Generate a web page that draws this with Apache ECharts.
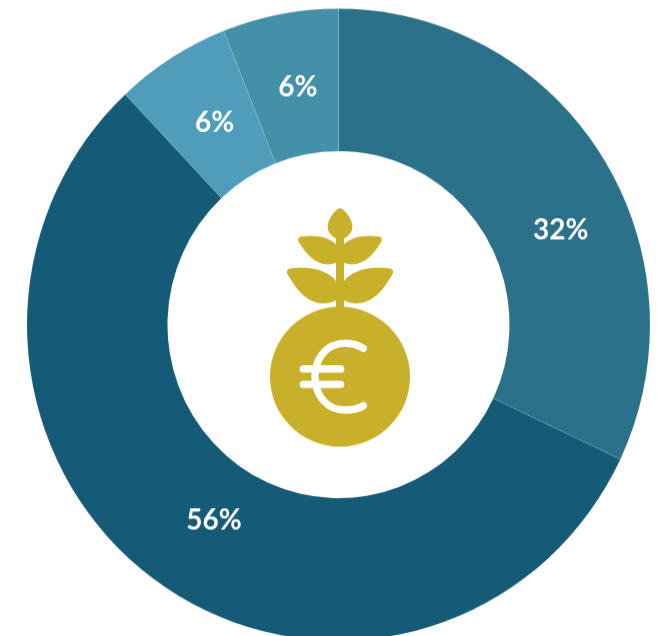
<!DOCTYPE html>
<html>
<head>
<meta charset="utf-8">
<style>
html, body { margin: 0; padding: 0; background: #fff; overflow: hidden; }
/* the source picture is stretched a little vertically */
#chart { width: 657px; height: 636px; transform: scaleY(1.0145); transform-origin: 0 0; }
</style>
<script src="https://cdn.jsdelivr.net/npm/echarts@6/dist/echarts.min.js"></script>
</head>
<body>
<div id="chart"></div>
<script>
// values clockwise from 12 o'clock
var shares = [32, 56, 6, 6];
var colors = ['#2b7189', '#155a76', '#4f9cbb', '#4490a9'];
var labelShift = [[16, 38], [19, -5], [7, 7], [5, 6]];

var gold = '#c9b02b';
var stretch = 1.0145;

// icon outlines, written at 3x
var iconPaths = {
	budLeaf: 'M270 40 C280 40 307 70 307 95 C307 118 288 128 270 135 C252 128 233 118 233 95 C233 70 260 40 270 40 Z',
	upperRight: 'M282 148 C300 128 335 118 385 124 C397 126 398 135 392 143 C375 170 350 205 310 208 C295 209 282 205 270 195 L270 150 Z',
	upperLeft: 'M258 148 C240 128 205 118 155 124 C143 126 142 135 148 143 C165 170 190 205 230 208 C245 209 258 205 270 195 L270 150 Z',
	lowerRight: 'M282 258 C305 230 350 212 418 220 C430 222 432 232 426 240 C405 275 375 325 320 325 C305 325 290 322 270 310 L270 260 Z',
	lowerLeft: 'M258 258 C235 230 190 212 122 220 C110 222 108 232 114 240 C135 275 165 325 220 325 C235 325 250 322 270 310 L270 260 Z',
	euroArc: 'M340 460 C320 448 300 445 285 445 C225 445 195 495 195 545 C195 600 230 645 285 645 C305 645 325 642 340 632',
	euroBars: 'M160 522 L272 522 M160 568 L272 568'
};
Object.keys(iconPaths).forEach(function(k) {
	echarts.graphic.registerShape(k, echarts.graphic.extendPath(iconPaths[k]));
});

var chart = echarts.init(document.getElementById('chart'));

var pieData = shares.map(function(v, i) {
	return { value: v, name: v + '%', itemStyle: { color: colors[i] } };
});

var euroStroke = { fill: null, stroke: '#fff', lineWidth: 22, lineCap: 'round' };

chart.setOption({
	animation: false,
	series: [{
		type: 'pie',
		center: [338.5, 320],
		radius: [171, 311.5],
		startAngle: 90,
		clockwise: true,
		silent: true,
		itemStyle: { borderColor: 'rgba(255,255,255,0.2)', borderWidth: 0.5 },
		label: {
			position: 'inside',
			formatter: '{b}',
			color: '#fff',
			fontFamily: 'Lato',
			fontWeight: 700,
			fontSize: 28
		},
		labelLine: { show: false },
		labelLayout: function(params) {
			var s = labelShift[params.dataIndex];
			return { dx: s[0], dy: s[1] };
		},
		data: pieData
	}],
	// plant + euro coin in the hole
	graphic: [{
		type: 'group',
		x: 250,
		y: 195 / stretch,
		scaleX: 1 / 3,
		scaleY: 1 / 3 / stretch,
		silent: true,
		children: [
			{ type: 'circle', shape: { cx: 270, cy: 545, r: 210 }, style: { fill: gold } },
			{ type: 'rect', shape: { x: 258, y: 100, width: 24, height: 250 }, style: { fill: gold } },
			{ type: 'budLeaf', style: { fill: gold } },
			{ type: 'upperRight', style: { fill: gold } },
			{ type: 'upperLeft', style: { fill: gold } },
			{ type: 'lowerRight', style: { fill: gold } },
			{ type: 'lowerLeft', style: { fill: gold } },
			{ type: 'euroArc', style: euroStroke },
			{ type: 'euroBars', style: euroStroke }
		]
	}]
});
</script>
</body>
</html>
